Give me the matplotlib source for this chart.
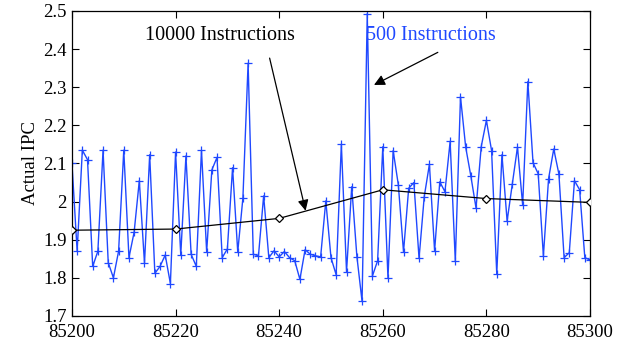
import matplotlib
matplotlib.use("Agg")
import matplotlib.pyplot as plt
import numpy as np

x_start = 85200
ipc_500 = [2.10, 1.87, 2.135, 2.11, 1.83, 1.87, 2.135, 1.84, 1.80, 1.87,
           2.135, 1.853, 1.92, 2.055, 1.838, 2.123, 1.812, 1.83, 1.86, 1.785,
           2.13, 1.86, 2.12, 1.862, 1.83, 2.135, 1.868, 2.083, 2.116, 1.853,
           1.876, 2.089, 1.868, 2.01, 2.363, 1.862, 1.858, 2.015, 1.853, 1.871,
           1.855, 1.869, 1.853, 1.845, 1.796, 1.874, 1.862, 1.858, 1.855, 2.002,
           1.853, 1.808, 2.151, 1.816, 2.039, 1.856, 1.738, 2.493, 1.805, 1.845,
           2.144, 1.799, 2.134, 2.044, 1.868, 2.035, 2.05, 1.851, 2.013, 2.098,
           1.871, 2.052, 2.026, 2.158, 1.843, 2.275, 2.143, 2.067, 1.983, 2.144,
           2.213, 2.134, 1.81, 2.123, 1.949, 2.046, 2.143, 1.991, 2.315, 2.102,
           2.073, 1.857, 2.06, 2.138, 2.072, 1.853, 1.866, 2.055, 2.031, 1.853,
           1.847]
x_500 = np.arange(x_start, x_start + len(ipc_500))

x_10000 = [85200, 85220, 85240, 85260, 85280, 85300]
ipc_10000 = [1.925, 1.928, 1.956, 2.031, 2.008, 1.998]

xticks = [85200, 85220, 85240, 85260, 85280, 85300]
yticks = [1.7, 1.8, 1.9, 2.0, 2.1, 2.2, 2.3, 2.4, 2.5]
ytick_labels = ["1.7", "1.8", "1.9", "2", "2.1", "2.2", "2.3", "2.4", "2.5"]

plt.rcParams['font.family'] = ['Liberation Serif', 'DejaVu Serif']
blue = '#1f48ff'

fig = plt.figure(figsize=(6.28, 3.49), dpi=100)
ax = fig.add_axes([0.1146, 0.0946, 0.9395 - 0.1146, 0.9685 - 0.0946])

ax.plot(x_500, ipc_500, color=blue, lw=1.0, marker='+', ms=6, mew=0.9)
ax.plot(x_10000, ipc_10000, color='black', lw=0.9, marker='D', ms=4,
        mfc='white', mec='black', mew=0.9, zorder=3)

ax.set_xlim(85200, 85300)
ax.set_ylim(1.7, 2.5)
ax.set_xticks(xticks)
ax.set_xticklabels([str(t) for t in xticks])
ax.set_yticks(yticks)
ax.set_yticklabels(ytick_labels)
ax.tick_params(direction='in', top=True, right=True, labelsize=13.5, length=5, width=0.8)
ax.tick_params(axis='x', pad=6)
ax.tick_params(axis='y', pad=4)
for s in ax.spines.values():
    s.set_linewidth(0.9)
ax.set_ylabel("Actual IPC", fontsize=13.5, labelpad=3)

ax.annotate("10000 Instructions", xy=(85245.1, 1.976), xytext=(85214.1, 2.437),
            fontsize=14.5, color='black', ha='left', va='center',
            arrowprops=dict(arrowstyle='-|>', color='black', lw=0.9,
                            mutation_scale=16, shrinkA=8, shrinkB=0,
                            relpos=(0.81, 0.0)))
ax.annotate("500 Instructions", xy=(85258.3, 2.306), xytext=(85256.8, 2.437),
            fontsize=14.5, color=blue, ha='left', va='center',
            arrowprops=dict(arrowstyle='-|>', color='black', lw=0.9,
                            mutation_scale=16, shrinkA=8, shrinkB=0,
                            relpos=(0.67, 0.0)))

fig.savefig("out.png", dpi=100)
